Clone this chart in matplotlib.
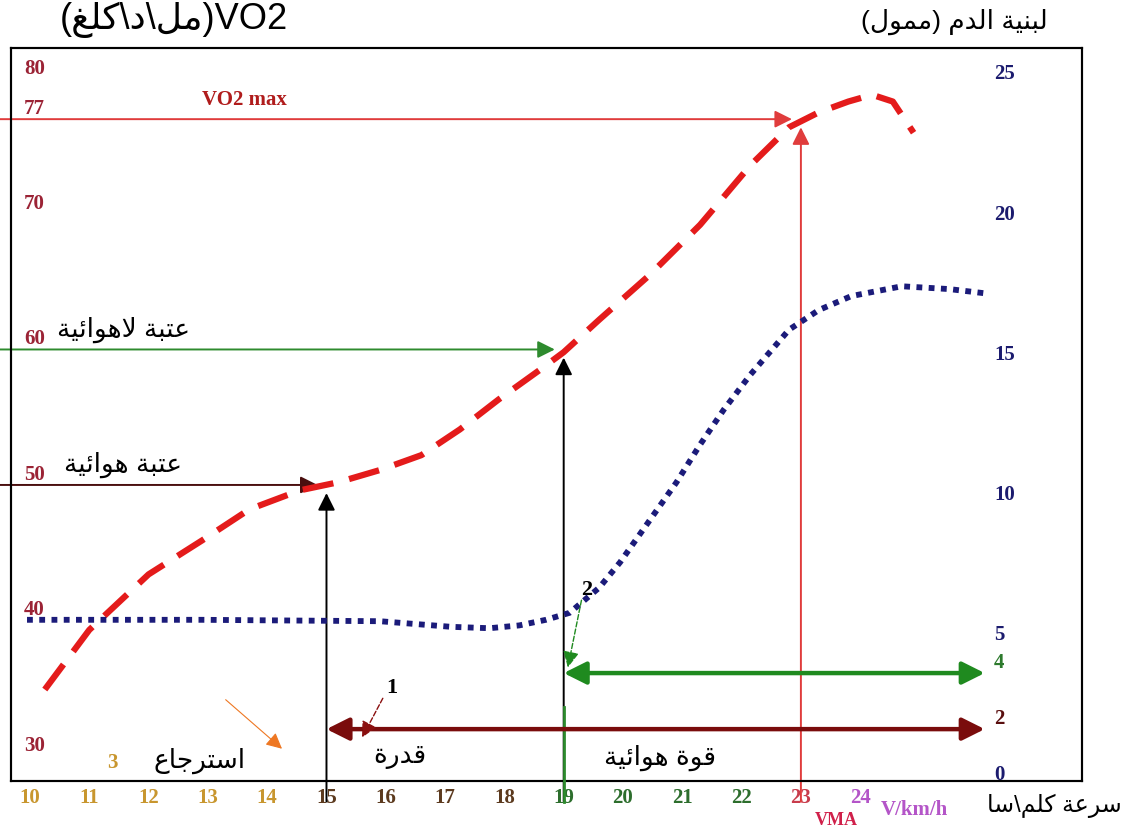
import numpy as np
import matplotlib
matplotlib.use('Agg')
import matplotlib.pyplot as plt

# --- data ---
speed_ticks = list(range(10, 25))
vo2_ticks = [80, 77, 70, 60, 50, 40, 30]
lactate_ticks = [25, 20, 15, 10, 5, 4, 2, 0]

# VO2 curve (ml/min/kg) vs speed (km/h)
vo2_speed = [10.25, 11.0, 12.0, 12.9, 13.7, 14.55, 15.2, 15.9, 16.6, 17.25, 17.9,
             18.6, 19.0, 19.6, 20.45, 21.3, 22.15, 22.8, 23.3, 23.8, 24.2, 24.55, 24.9]
vo2_val = [34.9, 39.3, 43.4, 45.9, 48.2, 49.6, 50.2, 51.1, 52.2, 54.1, 56.3,
           58.5, 59.8, 62.2, 65.5, 69.2, 73.6, 76.4, 77.5, 78.3, 78.8, 78.3, 76.0]

# blood lactate curve (mmol) vs speed
lac_speed = [9.95, 12.9, 15.9, 17.1, 17.75, 18.25, 18.7, 19.1, 19.6, 19.95, 20.45,
             20.9, 21.3, 21.7, 22.15, 22.8, 23.3, 23.85, 24.7, 25.5, 26.1]
lac_val = [5.9, 5.9, 5.85, 5.65, 5.6, 5.7, 5.9, 6.15, 7.05, 7.95, 9.45,
           10.8, 12.15, 13.4, 14.65, 16.25, 16.95, 17.45, 17.8, 17.7, 17.55]

# thresholds: aerobic, anaerobic, VO2max
thr_speed = [15, 19, 23]
thr_vo2 = [50, 60, 77]
# power ranges at lactate 2 and 4
range_lac = [2, 4]
range_start = [15, 19]
range_end = 26.1

# --- minimal arabic shaping (matplotlib has no bidi/shaping) ---
FORMS = {'ا': (0xFE8D, 2), 'ب': (0xFE8F, 4), 'ة': (0xFE93, 2), 'ت': (0xFE95, 4),
         'ج': (0xFE9D, 4), 'د': (0xFEA9, 2), 'ر': (0xFEAD, 2), 'س': (0xFEB1, 4),
         'ع': (0xFEC9, 4), 'غ': (0xFECD, 4), 'ق': (0xFED5, 4), 'ك': (0xFED9, 4),
         'ل': (0xFEDD, 4), 'م': (0xFEE1, 4), 'ن': (0xFEE5, 4), 'ه': (0xFEE9, 4),
         'و': (0xFEED, 2), 'ي': (0xFEF1, 4), 'ئ': (0xFE89, 4)}


def joins(c):
    return c in FORMS and FORMS[c][1] == 4


def ar(s):
    out = []
    i = 0
    while i < len(s):
        c = s[i]
        prev = s[i - 1] if i > 0 else ''
        nxt = s[i + 1] if i + 1 < len(s) else ''
        if c == 'ل' and nxt == 'ا':
            out.append(chr(0xFEFC if joins(prev) else 0xFEFB))
            i += 2
            continue
        if c not in FORMS:
            out.append(c)
            i += 1
            continue
        base, n = FORMS[c]
        idx = (1 if joins(prev) else 0) + (2 if (n == 4 and nxt in FORMS) else 0)
        out.append(chr(base + idx))
        i += 1
    vis = ''.join(reversed(out))
    return vis.translate(str.maketrans('()', ')('))


AR = ['Liberation Sans', 'DejaVu Sans']
SERIF = 'Liberation Serif'

fig = plt.figure(figsize=(11.27, 8.31), dpi=100)
ax = fig.add_axes([0.00976, 0.0602, 0.9503, 0.882])
ax.set_xlim(9.68, 27.74)
ax.set_ylim(28.15, 82.25)
ax2 = ax.twinx()
ax2.set_ylim(0.15, 26.3)
ax2.set_yticks([])
ax.set_yticks([])
for a in (ax, ax2):
    for sp in a.spines.values():
        sp.set_linewidth(1.5)
        sp.set_color('black')

# x tick labels, coloured in groups
speed_cols = ['#c8962e'] * 5 + ['#5c3a1e'] * 4 + ['#2d6e2d'] * 4 + ['#c83c4c', '#b455c8']
ax.set_xticks(speed_ticks)
ax.set_xticklabels([str(s) for s in speed_ticks], fontsize=15, fontweight='bold',
                   family=SERIF)
ax.tick_params(axis='x', length=0, pad=5)
for lab, c in zip(ax.get_xticklabels(), speed_cols):
    lab.set_color(c)
ax.text(24.35, -0.026, 'V/km/h', transform=ax.get_xaxis_transform(), color='#b455c8',
        fontsize=15, fontweight='bold', family=SERIF, ha='left', va='top')

# left VO2 labels
for v in vo2_ticks:
    ax.text(0.012, v, str(v), transform=ax.get_yaxis_transform(), color='#9b2335',
            fontsize=15, fontweight='bold', family=SERIF, ha='left', va='bottom')

# right lactate labels
lac_cols = {4: '#2d7a2d', 2: '#5a0f0f'}
for v in lactate_ticks:
    ax2.text(0.918, v, str(v), transform=ax2.get_yaxis_transform(),
             color=lac_cols.get(v, '#1b1b6e'), fontsize=15, fontweight='bold',
             family=SERIF, ha='left', va='bottom')

# threshold guide arrows
guide = [('#4a0f0f', 'black'), ('#2e8b2e', 'black'), ('#e03c3c', '#e03c3c')]
for s, v, (hc, vc) in zip(thr_speed, thr_vo2, guide):
    ax.annotate('', xy=(s - 0.15, v), xytext=(-0.012, v),
                textcoords=('axes fraction', 'data'),
                arrowprops=dict(arrowstyle='-|>', color=hc, lw=1.4,
                                mutation_scale=26, shrinkA=0, shrinkB=0),
                annotation_clip=False, zorder=3)
    ax.annotate('', xy=(s, v - 0.6), xytext=(s, -0.028),
                textcoords=('data', 'axes fraction'),
                arrowprops=dict(arrowstyle='-|>', color=vc, lw=1.4,
                                mutation_scale=26, shrinkA=0, shrinkB=0),
                annotation_clip=False, zorder=3)
# green lower part of the 19 line
ax2.plot([19, 19], [-0.6, 2.8], color='#2e8b2e', lw=2, clip_on=False, zorder=3)

# power range double arrows
for lv, st, c in zip(range_lac, range_start, ['#7a0c0c', '#1f8a1f']):
    ax2.annotate('', xy=(range_end, lv), xytext=(st, lv),
                 arrowprops=dict(arrowstyle='<|-|>', color=c, lw=3.2,
                                 mutation_scale=34, shrinkA=0, shrinkB=0),
                 zorder=3)

# curves
ax2.plot(lac_speed, lac_val, color='#1b1b7a', lw=4.2, dashes=(1, 1.1),
         dash_capstyle='butt', zorder=4)
ax.plot(vo2_speed, vo2_val, color='#e41b1b', lw=4.5, dashes=(5, 2.6),
        dash_capstyle='butt', zorder=5)

# pointer arrows "1", "2" and orange
ax2.annotate('', xy=(15.6, 1.7), xytext=(15.95, 3.1),
             arrowprops=dict(arrowstyle='-|>', color='#8a0f0f', lw=1, ls='--',
                             mutation_scale=24, shrinkA=0, shrinkB=0), zorder=6)
ax2.text(16.0, 3.1, '1', color='black', fontsize=16, fontweight='bold',
         family=SERIF, ha='left', va='bottom')
ax2.annotate('', xy=(19.07, 4.2), xytext=(19.3, 6.6),
             arrowprops=dict(arrowstyle='-|>', color='#1f8a1f', lw=1, ls='--',
                             mutation_scale=24, shrinkA=0, shrinkB=0), zorder=6)
ax2.text(19.3, 6.6, '2', color='black', fontsize=16, fontweight='bold',
         family=SERIF, ha='left', va='bottom')
ax2.annotate('', xy=(14.25, 1.3), xytext=(13.3, 3.05),
             arrowprops=dict(arrowstyle='-|>', color='#ee7722', lw=0.8,
                             mutation_scale=24, shrinkA=0, shrinkB=0), zorder=6)

# labels in the plot
ax.text(0.218, 0.929, 'VO2 max', transform=ax.transAxes, color='#b01c1c',
        fontsize=15, fontweight='bold', family=SERIF, ha='center', va='center')
ax.text(0.105, 0.615, ar('عتبة لاهوائية'), transform=ax.transAxes, family=AR,
        fontsize=19, ha='center', va='center')
ax.text(0.105, 0.431, ar('عتبة هوائية'), transform=ax.transAxes, family=AR,
        fontsize=19, ha='center', va='center')
ax.text(0.095, 0.024, '3', transform=ax.transAxes, color='#c8962e', fontsize=15,
        fontweight='bold', family=SERIF, ha='center', va='center')
ax.text(0.176, 0.028, ar('استرجاع'), transform=ax.transAxes, family=AR,
        fontsize=19, ha='center', va='center')
ax.text(0.363, 0.033, ar('قدرة'), transform=ax.transAxes, family=AR,
        fontsize=19, ha='center', va='center')
ax.text(0.606, 0.031, ar('قوة هوائية'), transform=ax.transAxes, family=AR,
        fontsize=19, ha='center', va='center')

# axis titles
fig.text(0.053, 0.976, '(' + ar('مل\\د\\كلغ') + ')VO2', family=AR, fontsize=26,
         ha='left', va='center')
fig.text(0.847, 0.974, ar('لبنية الدم (ممول)'), family=AR, fontsize=19,
         ha='center', va='center')
fig.text(0.876, 0.030, ar('سرعة كلم\\سا'), family=AR, fontsize=17,
         ha='left', va='center')
fig.text(0.742, 0.002, 'VMA', color='#d0204a', fontsize=13, fontweight='bold',
         family=SERIF, ha='center', va='bottom')

fig.savefig('out.png', dpi=100)
